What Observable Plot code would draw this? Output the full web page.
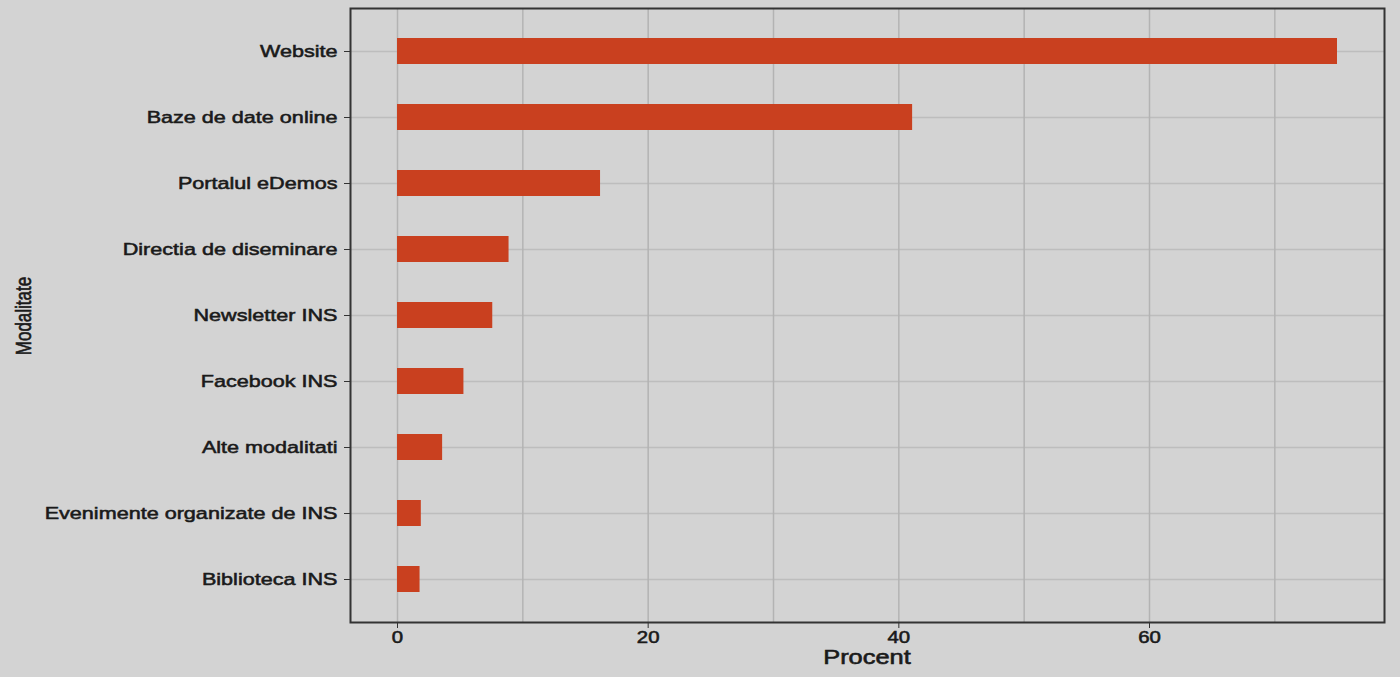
<!DOCTYPE html>
<html>
<head>
<meta charset="utf-8">
<script src="https://cdn.jsdelivr.net/npm/d3@7"></script>
<script src="https://cdn.jsdelivr.net/npm/@observablehq/plot@0.6"></script>
<style>
  html, body { margin: 0; padding: 0; background: #d3d3d3; }
  #chart svg { display: block; }
</style>
</head>
<body>
<div id="chart"></div>
<script>
const categories = ["Website", "Baze de date online", "Portalul eDemos", "Directia de diseminare", "Newsletter INS", "Facebook INS", "Alte modalitati", "Evenimente organizate de INS", "Biblioteca INS"];
const values = [75.0, 41.1, 16.2, 8.9, 7.6, 5.3, 3.6, 1.9, 1.8];
const majorTicks = [0, 20, 40, 60];
const minorTicks = [10, 30, 50, 70];
const xLabel = "Procent";
const yLabel = "Modalitate";

const data = categories.map((c, i) => ({category: c, value: values[i]}));

const fontFamily = "'Liberation Sans', Arial, sans-serif";
const stretch = 1.27;

const chart = Plot.plot({
  width: 1400,
  height: 677,
  marginLeft: 350,
  marginRight: 16,
  marginTop: 8,
  marginBottom: 55,
  style: {background: "#d3d3d3", fontFamily, color: "#1a1a1a"},
  x: {domain: [-3.75, 78.75]},
  y: {domain: categories, paddingInner: 0.6, paddingOuter: 0.4},
  marks: [
    Plot.gridY(categories, {stroke: "#bdbdbd", strokeOpacity: 1, strokeWidth: 1.5}),
    Plot.gridX(minorTicks, {stroke: "#b3b3b3", strokeOpacity: 1, strokeWidth: 1.5}),
    Plot.gridX(majorTicks, {stroke: "#b3b3b3", strokeOpacity: 1, strokeWidth: 1.5}),
    Plot.barX(data, {x: "value", y: "category", fill: "#c9401f"}),
    Plot.frame({stroke: "#333", strokeWidth: 2}),
    Plot.axisY({label: null, tickSize: 6, tickPadding: 7, fontSize: 17, stroke: "#333"}),
    Plot.axisX(majorTicks, {label: null, tickSize: 6, tickPadding: 3, fontSize: 16, stroke: "#333"})
  ]
});

document.getElementById("chart").appendChild(chart);

const svg = d3.select(chart);

// widen tick labels horizontally like the reference
svg.selectAll('g[aria-label="y-axis tick label"] text, g[aria-label="x-axis tick label"] text')
  .each(function () {
    const len = this.getComputedTextLength();
    d3.select(this)
      .attr("textLength", len * stretch)
      .attr("lengthAdjust", "spacingAndGlyphs")
      .attr("stroke", "#1a1a1a")
      .attr("stroke-width", 0.55);
  });

const xt = svg.append("text")
  .attr("x", 867).attr("y", 664)
  .attr("text-anchor", "middle")
  .attr("font-family", fontFamily)
  .attr("font-size", 20)
  .attr("fill", "#1a1a1a")
  .attr("stroke", "#1a1a1a")
  .attr("stroke-width", 0.6)
  .text(xLabel);
xt.attr("textLength", xt.node().getComputedTextLength() * stretch)
  .attr("lengthAdjust", "spacingAndGlyphs");

svg.append("text")
  .attr("transform", `translate(31,316) scale(${stretch},1) rotate(-90)`)
  .attr("text-anchor", "middle")
  .attr("font-family", fontFamily)
  .attr("font-size", 17)
  .attr("fill", "#1a1a1a")
  .attr("stroke", "#1a1a1a")
  .attr("stroke-width", 0.5)
  .text(yLabel);
</script>
</body>
</html>
